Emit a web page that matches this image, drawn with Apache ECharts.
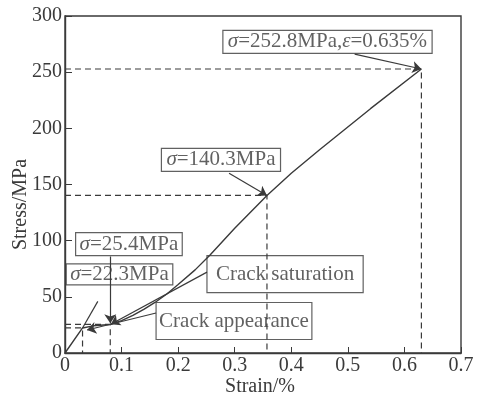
<!DOCTYPE html>
<html>
<head>
<meta charset="utf-8">
<script src="https://cdn.jsdelivr.net/npm/echarts@6/dist/echarts.min.js"></script>
<style>
  html, body { margin: 0; padding: 0; background: #fff; }
  #chart { width: 483px; height: 395px; }
</style>
</head>
<body>
<div id="chart"></div>
<script>
// stress-strain curve
const strain = [0, 0.031, 0.05, 0.08, 0.1, 0.12, 0.14, 0.159, 0.18, 0.2, 0.23, 0.256, 0.3, 0.357, 0.4, 0.45, 0.54, 0.63];
const stress = [0, 22.3, 24.2, 25.4, 28.8, 33.5, 39, 45, 52.5, 61, 74, 87, 111, 140.3, 160, 181, 217.5, 252.8];

// marked points (dashed guides)
const markStrain = [0.031, 0.08, 0.357, 0.63];
const markStress = [22.3, 25.4, 140.3, 252.8];

// elastic slope line through the first crack point
const slopeStrain = [0.031, 0.058];
const slopeStress = [22.3, 46];

const xTicks = [0, 0.1, 0.2, 0.3, 0.4, 0.5, 0.6, 0.7];
const yTicks = [0, 50, 100, 150, 200, 250, 300];

// annotation boxes: text, box centre [strain, stress], arrow start, arrow end
const notes = [
  { text: "{i|σ}=252.8MPa,{i|ε}=0.635%", at: [0.464, 277], from: [0.512, 266], to: [0.63, 252.8], pad: [1, 5] },
  { text: "{i|σ}=140.3MPa", at: [0.2757, 172], from: [0.29, 160], to: [0.357, 140.3], pad: [1, 5] },
  { text: "{i|σ}=25.4MPa", at: [0.113, 97], from: [0.08, 86], to: [0.08, 26.5], pad: [1, 4] },
  { text: "{i|σ}=22.3MPa", at: [0.0963, 70], from: null, to: null, pad: [0, 4] },
  { text: "Crack saturation", at: [0.389, 70.3], from: [0.251, 72], to: [0.081, 25.6], pad: [8, 9] },
  { text: "Crack appearance", at: [0.2987, 28.5], from: [0.161, 35.6], to: [0.039, 20.5], pad: [8, 3] },
];

const ink = "#3a3a3a";
const font = "'Liberation Serif', 'DejaVu Serif', serif";

const chart = echarts.init(document.getElementById("chart"));

const guides = markStrain.map((x, i) => ({
  type: "line",
  data: [[0, markStress[i]], [x, markStress[i]], [x, 0]],
  showSymbol: false,
  silent: true,
  lineStyle: { color: ink, width: 1.2, type: [6, 4] },
  z: 1,
}));

const options = {
  animation: false,
  backgroundColor: "#fff",
  grid: {
    left: 65,
    right: 22,
    top: 16,
    bottom: 42,
    outerBoundsMode: "none",
    containLabel: false,
    show: true,
    borderColor: ink,
    borderWidth: 1.4,
  },
  xAxis: {
    type: "value",
    min: 0,
    max: 0.7,
    interval: 0.1,
    name: "Strain/%",
    nameLocation: "middle",
    nameGap: 24,
    nameMoveOverlap: false,
    nameTextStyle: { color: ink, fontFamily: font, fontSize: 20, padding: [0, 6, 0, 0] },
    axisLine: { lineStyle: { color: ink, width: 1.4 } },
    axisTick: { inside: true, length: 6, lineStyle: { color: ink } },
    axisLabel: {
      color: ink,
      fontFamily: font,
      fontSize: 20,
      margin: 3,
      formatter: (v) => (xTicks.includes(+v.toFixed(1)) ? (v === 0 ? "0" : v.toFixed(1)) : ""),
    },
    splitLine: { show: false },
  },
  yAxis: {
    type: "value",
    min: 0,
    max: 300,
    interval: 50,
    name: "Stress/MPa",
    nameLocation: "middle",
    nameGap: 34,
    nameMoveOverlap: false,
    nameTextStyle: { color: ink, fontFamily: font, fontSize: 20, padding: [0, 40, 0, 0] },
    axisLine: { lineStyle: { color: ink, width: 1.4 } },
    axisTick: { inside: true, length: 7, lineStyle: { color: ink } },
    axisLabel: {
      color: ink,
      fontFamily: font,
      fontSize: 20,
      margin: 3,
      formatter: (v) => (yTicks.includes(v) ? String(v) : ""),
    },
    splitLine: { show: false },
  },
  series: [
    ...guides,
    {
      type: "line",
      data: strain.map((x, i) => [x, stress[i]]),
      showSymbol: false,
      smooth: false,
      lineStyle: { color: ink, width: 1.4 },
      z: 3,
    },
    {
      type: "line",
      data: slopeStrain.map((x, i) => [x, slopeStress[i]]),
      showSymbol: false,
      lineStyle: { color: ink, width: 1.2 },
      z: 3,
    },
    {
      type: "lines",
      coordinateSystem: "cartesian2d",
      symbol: ["none", "arrow"],
      symbolSize: 9,
      lineStyle: { color: ink, width: 1.2, opacity: 1, curveness: 0 },
      data: notes.filter((n) => n.from).map((n) => ({ coords: [n.from, n.to] })),
      z: 4,
    },
    {
      type: "scatter",
      symbolSize: 0,
      silent: true,
      data: notes.map((n) => ({
        value: n.at,
        label: { padding: n.pad },
      })),
      label: {
        show: true,
        position: "inside",
        color: ink,
        fontFamily: font,
        fontSize: 21,
        borderColor: ink,
        borderWidth: 1.2,
        formatter: (p) => notes[p.dataIndex].text,
        rich: {
          i: { fontStyle: "italic", fontFamily: font, fontSize: 21, color: ink },
        },
      },
      z: 5,
    },
  ],
};

chart.setOption(options);
</script>
</body>
</html>
